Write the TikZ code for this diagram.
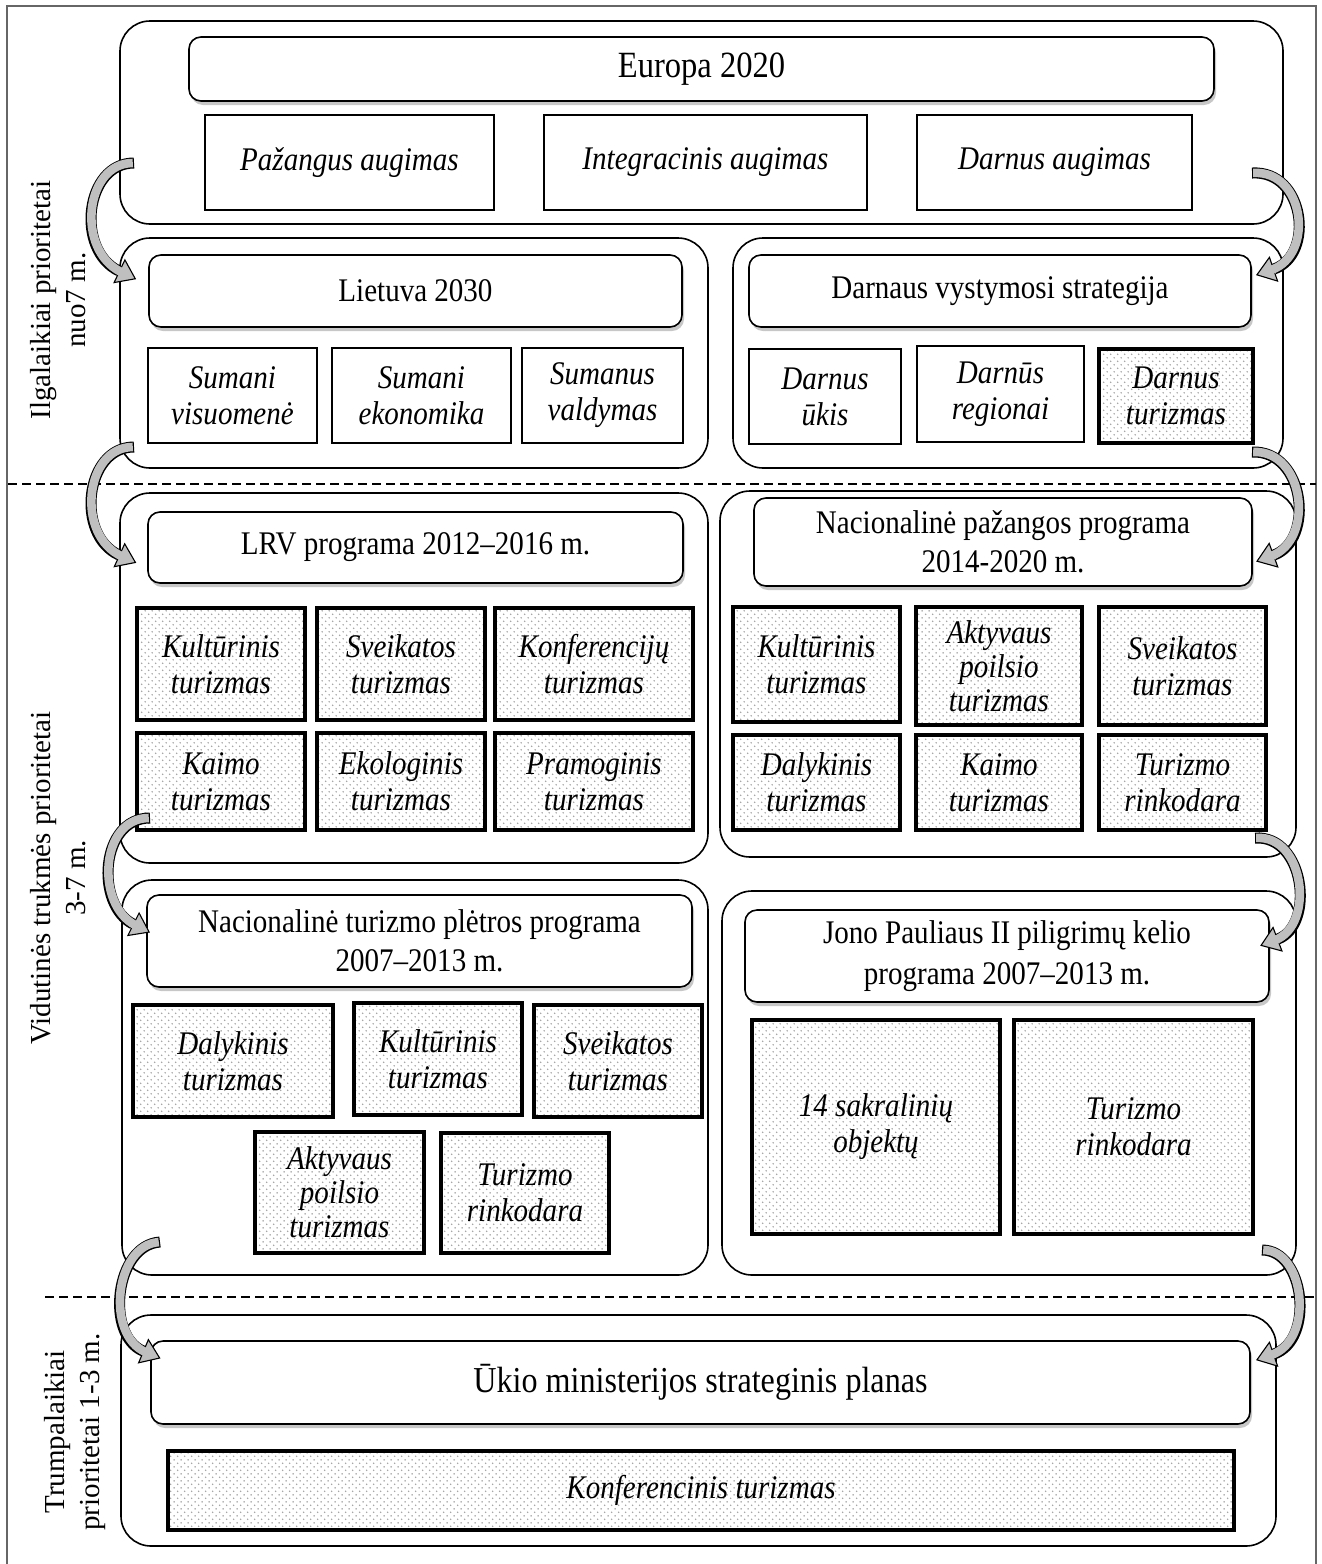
\documentclass[tikz,border=0pt]{standalone}
\usepackage{fontspec}
\setmainfont{Liberation Serif}[FakeStretch=0.88]
\newfontfamily\sidefont{Liberation Serif}
\usetikzlibrary{calc,arrows.meta,shadows,patterns.meta}

\tikzdeclarepattern{
  name=dotgrid,
  type=uncolored,
  bounding box={(0pt,0pt) and (7.4pt,7.4pt)},
  tile size={(7.4pt,7.4pt)},
  code={
    \fill (1.85pt,1.85pt) circle (0.85pt);
    \fill (5.55pt,5.55pt) circle (0.85pt);
  }
}

\newcommand{\mybox}[7]{\node[#1, minimum width={#5-#3}, minimum height={#6-#4}] (#2) at ({(#3+#5)/2},{(#4+#6)/2}) {#7};}
\newcommand{\curvarr}[4]{%
  \draw[arrout] (#1) .. controls (#2) and (#3) .. (#4);
  \draw[arrhead] (#4) -- ($(#4)!-19pt!(#3)$);
  \draw[arrin] (#1) .. controls (#2) and (#3) .. (#4);
}

\begin{document}
\begin{tikzpicture}[x=1pt,y=-1pt,
  grp/.style={draw, line width=1.6pt, rounded corners=30pt, inner sep=0pt},
  hdr/.style={draw, line width=1.6pt, rounded corners=12pt, fill=white, inner sep=0pt, align=center,
    font=\fontsize{33}{39}\selectfont,
    drop shadow={shadow xshift=2pt, shadow yshift=-4pt, opacity=0.22, fill=black}},
  pbox/.style={draw, line width=1.5pt, fill=white, inner sep=0pt, align=center,
    font=\fontsize{33}{36}\selectfont\itshape},
  dbox/.style={draw, line width=3.6pt, pattern=dotgrid, pattern color=black!38, inner sep=0pt, align=center,
    font=\fontsize{33}{36}\selectfont\itshape},
  sidelab/.style={rotate=90, align=center, font=\sidefont\fontsize{29}{35}\selectfont},
  dashline/.style={line width=1.3pt, dash pattern=on 9pt off 5pt},
  frame/.style={draw=black!60, line width=1.3pt},
  arrout/.style={line width=11pt, black},
  arrin/.style={line width=8.6pt, black!25, shorten <=1.2pt, shorten >=-3pt},
  arrhead/.style={line width=1.1pt, black, -{Triangle[width=27pt,length=19pt,fill=black!25]}}
]
\useasboundingbox (0,0) rectangle (1322,1564);
\fill[white] (0,0) rectangle (1322,1564);
\draw[frame] (7,6) rectangle (1316,1570);

% dashed separators
\coordinate (d1l) at (8,484); \coordinate (d1r) at (1316,484);
\coordinate (d2l) at (45,1297); \coordinate (d2r) at (1316,1297);
\draw[dashline] (d1l) -- (d1r);
\draw[dashline] (d2l) -- (d2r);

% side labels
\node[sidelab] (lab1) at (58,300) {Ilgalaikiai prioritetai\\nuo7 m.};
\node[sidelab] (lab2) at (58,878) {Vidutinės trukmės prioritetai\\3-7 m.};
\node[sidelab] (lab3) at (75,1432) {Trumpalaikiai\\prioritetai 1-3 m.};

% groups
\mybox{grp}{g1}{120}{21}{1283}{224}{}
\mybox{grp}{g2}{120}{238}{708}{468}{}
\mybox{grp}{g3}{733}{238}{1283}{468}{}
\mybox{grp}{g4}{120}{493}{708}{863}{}
\mybox{grp}{g5}{720}{491}{1296}{857}{}
\mybox{grp}{g6}{122}{880}{708}{1275}{}
\mybox{grp}{g7}{722}{891}{1296}{1275}{}
\mybox{grp}{g8}{121}{1315}{1276}{1546}{}

% headers
\mybox{hdr, font=\fontsize{37}{42}\selectfont}{h1}{189}{37}{1214}{101}{Europa 2020}
\mybox{hdr}{h2}{149}{255}{682}{327}{Lietuva 2030}
\mybox{hdr}{h3}{749}{255}{1251}{327}{Darnaus vystymosi strategija}
\mybox{hdr}{h4}{148}{512}{683}{583}{LRV programa 2012–2016 m.}
\mybox{hdr}{h5}{754}{498}{1252}{586}{Nacionalinė pažangos programa\\2014-2020 m.}
\mybox{hdr}{h6}{147}{895}{692}{987}{Nacionalinė turizmo plėtros programa\\2007–2013 m.}
\mybox{hdr, font=\fontsize{33}{41}\selectfont}{h7}{745}{910}{1269}{1002}{Jono Pauliaus II piligrimų kelio\\programa 2007–2013 m.}
\mybox{hdr, font=\fontsize{36.5}{42}\selectfont}{h8}{151}{1341}{1250}{1424}{Ūkio ministerijos strateginis planas}

% plain boxes
\mybox{pbox}{p1}{205}{115}{494}{210}{Pažangus augimas}
\mybox{pbox}{p2}{544}{115}{867}{210}{Integracinis augimas}
\mybox{pbox}{p3}{917}{115}{1192}{210}{Darnus augimas}
\mybox{pbox}{p4}{148}{348}{317}{443}{Sumani\\visuomenė}
\mybox{pbox}{p5}{332}{348}{511}{443}{Sumani\\ekonomika}
\mybox{pbox}{p6}{522}{348}{683}{443}{Sumanus\\valdymas}
\mybox{pbox}{p7}{749}{349}{901}{444}{Darnus\\ūkis}
\mybox{pbox}{p8}{917}{346}{1084}{442}{Darnūs\\regionai}

% dotted boxes
\mybox{dbox}{t1}{1099}{349}{1253}{443}{Darnus\\turizmas}
\mybox{dbox}{t2}{137}{608}{305}{720}{Kultūrinis\\turizmas}
\mybox{dbox}{t3}{317}{608}{485}{720}{Sveikatos\\turizmas}
\mybox{dbox}{t4}{495}{608}{693}{720}{Konferencijų\\turizmas}
\mybox{dbox}{t5}{137}{733}{305}{830}{Kaimo\\turizmas}
\mybox{dbox}{t6}{317}{733}{485}{830}{Ekologinis\\turizmas}
\mybox{dbox}{t7}{495}{733}{693}{830}{Pramoginis\\turizmas}
\mybox{dbox}{t8}{733}{607}{900}{722}{Kultūrinis\\turizmas}
\mybox{dbox, font=\fontsize{33}{34}\selectfont\itshape}{t9}{916}{607}{1082}{725}{Aktyvaus\\poilsio\\turizmas}
\mybox{dbox}{t10}{1099}{607}{1266}{725}{Sveikatos\\turizmas}
\mybox{dbox}{t11}{733}{735}{900}{830}{Dalykinis\\turizmas}
\mybox{dbox}{t12}{916}{735}{1082}{830}{Kaimo\\turizmas}
\mybox{dbox}{t13}{1099}{735}{1266}{830}{Turizmo\\rinkodara}
\mybox{dbox}{t14}{133}{1005}{333}{1117}{Dalykinis\\turizmas}
\mybox{dbox}{t15}{354}{1003}{522}{1115}{Kultūrinis\\turizmas}
\mybox{dbox}{t16}{534}{1005}{702}{1117}{Sveikatos\\turizmas}
\mybox{dbox, font=\fontsize{33}{34}\selectfont\itshape}{t17}{255}{1132}{424}{1253}{Aktyvaus\\poilsio\\turizmas}
\mybox{dbox}{t18}{441}{1133}{609}{1253}{Turizmo\\rinkodara}
\mybox{dbox}{t19}{752}{1020}{1000}{1234}{14 sakralinių\\objektų}
\mybox{dbox}{t20}{1014}{1020}{1253}{1234}{Turizmo\\rinkodara}
\mybox{dbox}{t21}{168}{1451}{1234}{1530}{Konferencinis turizmas}

% curved arrows
\coordinate (a1s) at (134,163);  \coordinate (a1e) at (119,271);
\coordinate (a2s) at (1252,173); \coordinate (a2e) at (1274,269);
\coordinate (a3s) at (134,447);  \coordinate (a3e) at (119,555);
\coordinate (a4s) at (1252,452); \coordinate (a4e) at (1274,555);
\coordinate (a5s) at (150,818);  \coordinate (a5e) at (133,924);
\coordinate (a6s) at (1255,838); \coordinate (a6e) at (1278,939);
\coordinate (a7s) at (160,1242); \coordinate (a7e) at (143,1351);
\coordinate (a8s) at (1262,1250);\coordinate (a8e) at (1274,1354);

\curvarr{a1s}{85,163}{75,250}{a1e}
\curvarr{a2s}{1305,170}{1315,255}{a2e}
\curvarr{a3s}{85,447}{75,535}{a3e}
\curvarr{a4s}{1305,450}{1315,540}{a4e}
\curvarr{a5s}{100,818}{95,905}{a5e}
\curvarr{a6s}{1305,835}{1315,925}{a6e}
\curvarr{a7s}{115,1245}{105,1335}{a7e}
\curvarr{a8s}{1305,1250}{1315,1340}{a8e}
\end{tikzpicture}
\end{document}
